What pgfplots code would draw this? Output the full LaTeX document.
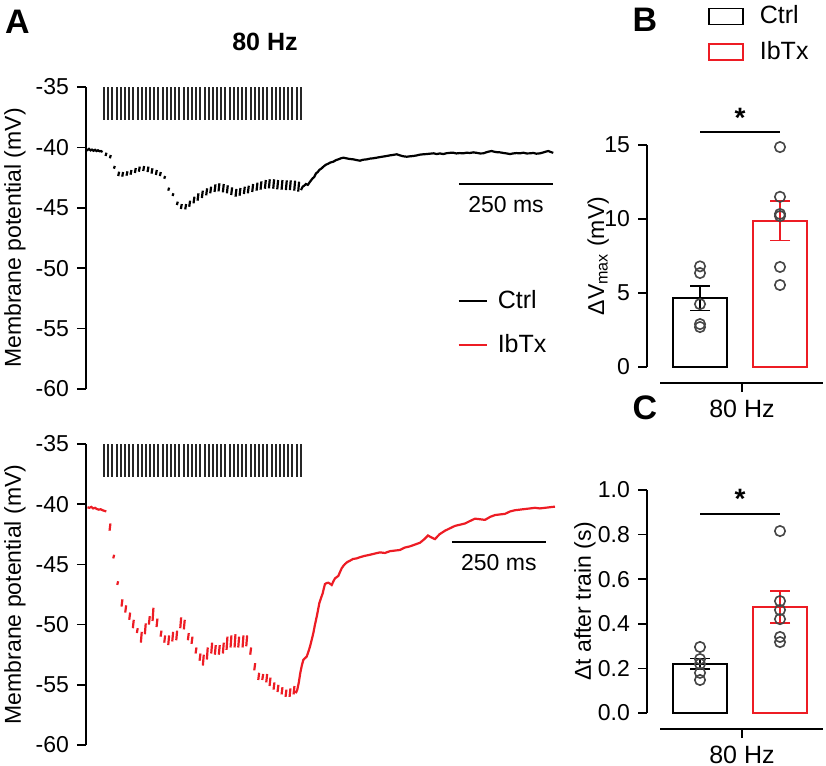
\documentclass[border=0pt]{standalone}
\usepackage{fontspec}
\setmainfont{Liberation Sans}
\usepackage{pgfplots}
\usepackage{pgfplotstable}
\pgfplotsset{compat=1.18}
\definecolor{myred}{RGB}{237,28,36}
\definecolor{cgray}{RGB}{70,70,70}

\pgfplotstableread[row sep=\\]{
t v\\
47.9 -35\\ 47.9 -37.75\\ nan nan\\
59.0 -35\\ 59.0 -37.75\\ nan nan\\
70.2 -35\\ 70.2 -37.75\\ nan nan\\
81.3 -35\\ 81.3 -37.75\\ nan nan\\
92.5 -35\\ 92.5 -37.75\\ nan nan\\
103.6 -35\\ 103.6 -37.75\\ nan nan\\
114.7 -35\\ 114.7 -37.75\\ nan nan\\
125.9 -35\\ 125.9 -37.75\\ nan nan\\
137.0 -35\\ 137.0 -37.75\\ nan nan\\
148.2 -35\\ 148.2 -37.75\\ nan nan\\
159.3 -35\\ 159.3 -37.75\\ nan nan\\
170.4 -35\\ 170.4 -37.75\\ nan nan\\
181.6 -35\\ 181.6 -37.75\\ nan nan\\
192.7 -35\\ 192.7 -37.75\\ nan nan\\
203.9 -35\\ 203.9 -37.75\\ nan nan\\
215.0 -35\\ 215.0 -37.75\\ nan nan\\
226.1 -35\\ 226.1 -37.75\\ nan nan\\
237.3 -35\\ 237.3 -37.75\\ nan nan\\
248.4 -35\\ 248.4 -37.75\\ nan nan\\
259.6 -35\\ 259.6 -37.75\\ nan nan\\
270.7 -35\\ 270.7 -37.75\\ nan nan\\
281.8 -35\\ 281.8 -37.75\\ nan nan\\
293.0 -35\\ 293.0 -37.75\\ nan nan\\
304.1 -35\\ 304.1 -37.75\\ nan nan\\
315.3 -35\\ 315.3 -37.75\\ nan nan\\
326.4 -35\\ 326.4 -37.75\\ nan nan\\
337.5 -35\\ 337.5 -37.75\\ nan nan\\
348.7 -35\\ 348.7 -37.75\\ nan nan\\
359.8 -35\\ 359.8 -37.75\\ nan nan\\
371.0 -35\\ 371.0 -37.75\\ nan nan\\
382.1 -35\\ 382.1 -37.75\\ nan nan\\
393.2 -35\\ 393.2 -37.75\\ nan nan\\
404.4 -35\\ 404.4 -37.75\\ nan nan\\
415.5 -35\\ 415.5 -37.75\\ nan nan\\
426.7 -35\\ 426.7 -37.75\\ nan nan\\
437.8 -35\\ 437.8 -37.75\\ nan nan\\
448.9 -35\\ 448.9 -37.75\\ nan nan\\
460.1 -35\\ 460.1 -37.75\\ nan nan\\
471.2 -35\\ 471.2 -37.75\\ nan nan\\
482.4 -35\\ 482.4 -37.75\\ nan nan\\
493.5 -35\\ 493.5 -37.75\\ nan nan\\
504.6 -35\\ 504.6 -37.75\\ nan nan\\
515.8 -35\\ 515.8 -37.75\\ nan nan\\
526.9 -35\\ 526.9 -37.75\\ nan nan\\
538.1 -35\\ 538.1 -37.75\\ nan nan\\
549.2 -35\\ 549.2 -37.75\\ nan nan\\
560.3 -35\\ 560.3 -37.75\\ nan nan\\
571.5 -35\\ 571.5 -37.75\\
}\stimtable

\pgfplotstableread[row sep=\\]{
t v\\
0 -40.15\\ 4 -40.22\\ 8 -40.12\\ 12 -40.25\\ 16 -40.18\\ 20 -40.28\\ 24 -40.20\\ 28 -40.30\\ 32 -40.24\\ 36 -40.32\\ 40 -40.30\\ 44 -40.38\\ nan nan\\
52.0 -40.71\\ 54.4 -40.44\\ nan nan\\
63.5 -40.90\\ 65.9 -40.63\\ nan nan\\
74.2 -41.76\\ 76.6 -41.54\\ nan nan\\
85.7 -42.37\\ 88.1 -42.01\\ nan nan\\
96.3 -42.42\\ 98.7 -42.04\\ nan nan\\
107.8 -42.34\\ 110.2 -41.98\\ nan nan\\
118.5 -42.26\\ 120.9 -41.87\\ nan nan\\
130.0 -42.12\\ 132.4 -41.71\\ nan nan\\
140.6 -42.01\\ 143.0 -41.59\\ nan nan\\
152.2 -41.95\\ 154.6 -41.54\\ nan nan\\
163.7 -42.04\\ 166.1 -41.59\\ nan nan\\
174.3 -42.17\\ 176.7 -41.73\\ nan nan\\
185.9 -42.28\\ 188.3 -41.87\\ nan nan\\
196.5 -42.37\\ 198.9 -42.04\\ nan nan\\
208.0 -42.59\\ 210.4 -42.37\\ nan nan\\
218.7 -43.58\\ 221.1 -43.33\\ nan nan\\
230.2 -44.02\\ 232.6 -43.80\\ nan nan\\
241.7 -44.77\\ 244.1 -44.49\\ nan nan\\
252.3 -45.10\\ 254.7 -44.69\\ nan nan\\
263.9 -45.13\\ 266.3 -44.69\\ nan nan\\
274.5 -44.91\\ 276.9 -44.41\\ nan nan\\
286.0 -44.63\\ 288.4 -44.08\\ nan nan\\
296.7 -44.41\\ 299.1 -43.80\\ nan nan\\
308.2 -44.19\\ 310.6 -43.58\\ nan nan\\
319.7 -43.97\\ 322.1 -43.39\\ nan nan\\
330.4 -43.80\\ 332.8 -43.25\\ nan nan\\
341.9 -43.69\\ 344.3 -43.06\\ nan nan\\
352.5 -43.64\\ 354.9 -42.97\\ nan nan\\
364.0 -43.72\\ 366.4 -43.03\\ nan nan\\
374.7 -43.80\\ 377.1 -43.14\\ nan nan\\
386.2 -43.94\\ 388.6 -43.31\\ nan nan\\
397.7 -44.08\\ 400.1 -43.44\\ nan nan\\
408.4 -44.00\\ 410.8 -43.36\\ nan nan\\
419.9 -43.86\\ 422.3 -43.25\\ nan nan\\
430.5 -43.80\\ 432.9 -43.17\\ nan nan\\
442.1 -43.69\\ 444.5 -43.03\\ nan nan\\
453.6 -43.58\\ 456.0 -42.92\\ nan nan\\
464.2 -43.50\\ 466.6 -42.81\\ nan nan\\
475.8 -43.42\\ 478.2 -42.70\\ nan nan\\
486.4 -43.39\\ 488.8 -42.64\\ nan nan\\
497.9 -43.42\\ 500.3 -42.64\\ nan nan\\
508.6 -43.47\\ 511.0 -42.70\\ nan nan\\
520.1 -43.50\\ 522.5 -42.70\\ nan nan\\
531.6 -43.53\\ 534.0 -42.73\\ nan nan\\
542.2 -43.53\\ 544.6 -42.73\\ nan nan\\
553.8 -43.58\\ 556.2 -42.75\\ nan nan\\
564.4 -43.66\\ 566.8 -42.84\\ nan nan\\
571.8 -43.53\\ 576.2 -43.25\\ 581 -43.15\\ 585.1 -43.03\\ 590 -43.10\\ 594.0 -42.92\\ 598 -42.75\\ 602.8 -42.56\\ 607 -42.45\\ 611.7 -42.15\\ 616 -42.05\\ 621 -41.85\\ 626 -41.75\\ 631.2 -41.60\\ 637 -41.45\\ 644 -41.35\\ 650 -41.25\\ 657.8 -41.18\\ 665 -41.05\\ 672 -40.98\\ 678 -40.90\\ 684.4 -40.85\\ 692 -40.90\\ 700 -40.95\\ 711 -40.99\\ 720 -41.05\\ 728.7 -41.10\\ 737 -41.02\\ 746.5 -40.99\\ 755 -40.93\\ 764 -40.90\\ 773.1 -40.85\\ 782 -40.80\\ 790 -40.76\\ 799.7 -40.71\\ 808 -40.66\\ 817 -40.62\\ 826.3 -40.57\\ 834 -40.65\\ 843 -40.73\\ 852.9 -40.77\\ 861 -40.74\\ 870.6 -40.71\\ 880 -40.66\\ 888 -40.60\\ 897.2 -40.57\\ 906 -40.55\\ 915 -40.52\\ 923.8 -40.49\\ 933 -40.55\\ 941 -40.50\\ 950.4 -40.55\\ 959 -40.48\\ 968 -40.45\\ 976.9 -40.44\\ 985 -40.50\\ 994 -40.47\\ 1003.5 -40.49\\ 1012 -40.44\\ 1021 -40.46\\ 1030 -40.41\\ 1039 -40.45\\ 1048 -40.50\\ 1056.7 -40.49\\ 1065 -40.40\\ 1072 -40.34\\ 1078.9 -40.30\\ 1086 -40.36\\ 1094 -40.40\\ 1101 -40.41\\ 1110 -40.46\\ 1119 -40.50\\ 1127.7 -40.55\\ 1136 -40.50\\ 1145 -40.47\\ 1154.3 -40.49\\ 1163 -40.44\\ 1172 -40.50\\ 1180.9 -40.49\\ 1190 -40.46\\ 1198 -40.52\\ 1207.4 -40.49\\ 1216 -40.42\\ 1223 -40.35\\ 1229.6 -40.30\\ 1236 -40.38\\ 1242.8 -40.45\\
}\ctrltable

\pgfplotstableread[row sep=\\]{
t v\\
4 -40.25\\ 9 -40.30\\ 14 -40.22\\ 19 -40.35\\ 24 -40.30\\ 29 -40.40\\ 34 -40.45\\ 39 -40.42\\ 44 -40.50\\ 49 -40.55\\ 54 -40.60\\ nan nan\\
62.6 -42.2\\ 65.0 -41.6\\ nan nan\\
72.5 -44.5\\ 74.9 -44.2\\ nan nan\\
83.1 -46.7\\ 85.5 -46.4\\ nan nan\\
94.5 -48.5\\ 96.9 -47.9\\ nan nan\\
104.4 -49.0\\ 106.8 -48.4\\ nan nan\\
115.0 -49.6\\ 117.4 -49.0\\ nan nan\\
124.6 -50.3\\ 127.0 -49.6\\ nan nan\\
135.2 -50.7\\ 137.6 -50.3\\ nan nan\\
145.9 -51.5\\ 148.3 -50.6\\ nan nan\\
156.5 -50.8\\ 158.9 -49.9\\ nan nan\\
167.2 -50.0\\ 169.6 -49.3\\ nan nan\\
177.0 -49.7\\ 179.4 -48.6\\ nan nan\\
187.6 -50.2\\ 190.0 -49.5\\ nan nan\\
198.3 -51.0\\ 200.7 -50.5\\ nan nan\\
208.1 -51.5\\ 210.5 -50.9\\ nan nan\\
218.7 -51.7\\ 221.1 -50.9\\ nan nan\\
229.4 -51.4\\ 231.8 -50.6\\ nan nan\\
240.0 -51.3\\ 242.4 -50.5\\ nan nan\\
250.7 -50.3\\ 253.1 -49.4\\ nan nan\\
260.2 -50.4\\ 262.6 -49.6\\ nan nan\\
270.9 -51.3\\ 273.3 -50.7\\ nan nan\\
280.7 -51.6\\ 283.1 -51.0\\ nan nan\\
291.4 -52.4\\ 293.8 -51.9\\ nan nan\\
302.0 -53.0\\ 304.4 -52.4\\ nan nan\\
310.8 -53.4\\ 313.2 -52.5\\ nan nan\\
321.4 -52.9\\ 323.8 -51.9\\ nan nan\\
333.1 -52.4\\ 335.5 -51.5\\ nan nan\\
342.7 -52.5\\ 345.1 -51.7\\ nan nan\\
353.3 -52.5\\ 355.7 -51.7\\ nan nan\\
364.0 -52.4\\ 366.4 -51.5\\ nan nan\\
373.8 -52.1\\ 376.2 -51.0\\ nan nan\\
384.4 -51.9\\ 386.8 -50.9\\ nan nan\\
395.1 -51.9\\ 397.5 -50.8\\ nan nan\\
404.9 -51.9\\ 407.3 -51.0\\ nan nan\\
416.4 -51.9\\ 418.8 -50.9\\ nan nan\\
426.2 -51.8\\ 428.6 -50.9\\ nan nan\\
436.8 -52.5\\ 439.2 -51.9\\ nan nan\\
447.5 -53.8\\ 449.9 -53.2\\ nan nan\\
458.1 -54.6\\ 460.5 -54.0\\ nan nan\\
468.8 -54.6\\ 471.2 -54.1\\ nan nan\\
479.4 -54.8\\ 481.8 -54.1\\ nan nan\\
488.2 -55.1\\ 490.6 -54.4\\ nan nan\\
498.8 -55.4\\ 501.2 -54.8\\ nan nan\\
509.4 -55.6\\ 511.8 -55.0\\ nan nan\\
520.1 -55.8\\ 522.5 -55.2\\ nan nan\\
530.7 -56.0\\ 533.1 -55.4\\ nan nan\\
541.4 -56.0\\ 543.8 -55.3\\ nan nan\\
552.0 -55.8\\ 554.4 -55.1\\ nan nan\\
558 -55.7\\ 562 -55.4\\ 566 -54.8\\ 570 -54.0\\ 574 -53.4\\ 577.9 -52.94\\ 582 -52.8\\ 586.9 -52.66\\ 591 -52.3\\ 595.7 -51.83\\ 600 -51.3\\ 604.5 -50.72\\ 609 -50.0\\ 613.6 -49.34\\ 617 -48.8\\ 620.5 -48.23\\ 625 -47.8\\ 629.5 -47.40\\ 632.5 -47.0\\ 635.6 -46.63\\ 640 -46.55\\ 644.4 -46.52\\ 649 -46.6\\ 653.5 -46.71\\ 658 -46.4\\ 662.2 -46.16\\ 667 -46.05\\ 671.0 -45.96\\ 676 -45.6\\ 680.1 -45.32\\ 685 -45.1\\ 688.8 -44.97\\ 695 -44.8\\ 702.1 -44.69\\ 710 -44.55\\ 720 -44.5\\ 728.7 -44.4\\ 740 -44.3\\ 755 -44.2\\ 768 -44.1\\ 781.9 -44.0\\ 795 -44.05\\ 808.5 -43.9\\ 822 -43.85\\ 835.1 -43.8\\ 848 -43.6\\ 861.7 -43.5\\ 875 -43.35\\ 888.3 -43.2\\ 900 -42.9\\ 909.6 -42.6\\ 918 -42.75\\ 928.2 -42.9\\ 940 -42.5\\ 954.8 -42.2\\ 968 -42.0\\ 981.4 -41.8\\ 995 -41.7\\ 1008 -41.6\\ 1021 -41.4\\ 1034.6 -41.2\\ 1048 -41.25\\ 1061.2 -41.3\\ 1075 -41.05\\ 1087.8 -40.9\\ 1101 -40.85\\ 1114.4 -40.8\\ 1128 -40.6\\ 1141 -40.5\\ 1154 -40.45\\ 1167.6 -40.4\\ 1181 -40.35\\ 1194.1 -40.3\\ 1207 -40.35\\ 1220.7 -40.3\\ 1234 -40.25\\ 1247.3 -40.2\\
}\ibtxtable

\begin{document}
\fontsize{11.5}{13.8}\selectfont
\begin{tikzpicture}
\useasboundingbox (0,0) rectangle (413pt,-383pt);
\pgfplotsset{
  traceax/.style={
    scale only axis, width=235pt, height=151pt,
    xmin=0, xmax=1250, ymin=-60, ymax=-35,
    axis x line=none, axis y line*=left,
    axis line style={-, line width=0.8pt},
    ytick={-60,-55,-50,-45,-40,-35},
    yticklabels={-60,-55,-50,-45,-40,-35},
    tick align=outside, major tick length=4.5pt,
    ytick style={line width=0.8pt, black},
    ylabel={Membrane potential (mV)},
    ylabel style={at={(axis description cs:-0.151,0.5)}, anchor=center},
    unbounded coords=jump,
    legend image code/.code={\draw[#1] (0pt,0pt) -- (14pt,0pt);},
  },
  barax/.style={
    scale only axis, width=81.5pt,
    xmin=-0.5, xmax=1.5375,
    axis x line*=bottom, axis y line*=left,
    axis x line shift=8pt, axis y line shift=6.5pt,
    axis line style={-, line width=0.8pt},
    tick align=outside, major tick length=4.5pt,
    tick style={line width=0.8pt, black},
    xtick={0.525}, xticklabels={80 Hz},
    xticklabel style={font=\fontsize{12.5}{14}\selectfont},
    clip=false,
  },
  blackerr/.style={error bars/.cd, y dir=both, y explicit, error mark=-,
    error bar style={line width=0.8pt, draw=black},
    error mark options={rotate=90, line width=0.8pt, mark size=5pt, draw=black}},
  rederr/.style={error bars/.cd, y dir=both, y explicit, error mark=-,
    error bar style={line width=0.8pt, draw=myred},
    error mark options={rotate=90, line width=0.8pt, mark size=5pt, draw=myred}},
}

% Panel A top
\begin{axis}[traceax, at={(43pt,-194.5pt)}, anchor=south west,
  legend style={draw=none, fill=none, at={(0.777,0.354)}, anchor=north west, row sep=7pt,
    font=\fontsize{12.5}{14}\selectfont, /tikz/every odd column/.append style={column sep=3pt}},
  legend cell align=left]
\addplot[black!85, line width=1pt, forget plot] table[x=t,y=v]{\stimtable};
\addplot[black, line width=1.1pt, forget plot] table[x=t,y=v]{\ctrltable};
\addlegendimage{black, line width=1.1pt}
\addlegendentry{Ctrl}
\addlegendimage{myred, line width=1.1pt}
\addlegendentry{IbTx}
\draw[line width=0.9pt] (axis cs:992,-43.03) -- (axis cs:1242,-43.03);
\node at (axis cs:1117,-44.77) {250 ms};
\end{axis}

% Panel A bottom
\begin{axis}[traceax, at={(43pt,-372.5pt)}, anchor=south west, height=150.5pt]
\addplot[black!85, line width=1pt, forget plot] table[x=t,y=v]{\stimtable};
\addplot[myred, line width=1.1pt, forget plot] table[x=t,y=v]{\ibtxtable};
\draw[line width=0.9pt] (axis cs:973,-43.14) -- (axis cs:1223,-43.14);
\node at (axis cs:1098,-44.88) {250 ms};
\end{axis}

% Panel B
\begin{axis}[barax, at={(330pt,-183.5pt)}, anchor=south west, height=111pt,
  ymin=0, ymax=15, ytick={0,5,10,15}, yticklabels={0,5,10,15},
  ylabel={ΔV\textsubscript{max} (mV)},
  ylabel style={at={(axis description cs:-0.38,0.5)}, anchor=center},
  legend style={draw=none, fill=none, at={(0.257,1.665)}, anchor=north west, row sep=3pt,
    font=\fontsize{12.5}{14}\selectfont, /tikz/every odd column/.append style={column sep=6pt}},
  legend cell align=left,
  legend image code/.code={\draw[#1] (0pt,-4pt) rectangle (17pt,4pt);}]
\addplot[ybar, bar width=27pt, bar shift=0pt, draw=black, fill=white, line width=0.8pt, forget plot]
  coordinates {(0,4.66)};
\addplot[ybar, bar width=27pt, bar shift=0pt, draw=myred, fill=white, line width=0.8pt, forget plot]
  coordinates {(1,9.87)};
\addplot[only marks, mark=o, mark size=2.6pt, cgray, mark options={line width=0.8pt}, forget plot]
  coordinates {(0,6.8) (0,6.35) (0,4.25) (0,2.9) (0,2.7)};
\addplot[only marks, mark=o, mark size=2.6pt, cgray, mark options={line width=0.8pt}, forget plot]
  coordinates {(1,14.86) (1,11.5) (1,10.34) (1,10.2) (1,6.76) (1,5.54)};
\addplot[draw=none, mark=none, forget plot, blackerr] coordinates {(0,4.66) +- (0,0.83)};
\addplot[draw=none, mark=none, forget plot, rederr] coordinates {(1,9.87) +- (0,1.33)};
\addlegendimage{draw=black, fill=white, line width=0.8pt}
\addlegendentry{Ctrl}
\addlegendimage{draw=myred, fill=white, line width=0.8pt}
\addlegendentry{IbTx}
\draw[line width=0.8pt] (axis cs:0,15.88) -- (axis cs:1,15.88);
\node[font=\bfseries\fontsize{14}{14}\selectfont] at (axis cs:0.5,16.8) {*};
\end{axis}

% Panel C
\begin{axis}[barax, at={(330pt,-356.5pt)}, anchor=south west, height=111.5pt,
  ymin=0, ymax=1, ytick={0,0.2,0.4,0.6,0.8,1.0}, yticklabels={0.0,0.2,0.4,0.6,0.8,1.0},
  ylabel={Δt after train (s)},
  ylabel style={at={(axis description cs:-0.46,0.5)}, anchor=center}]
\addplot[ybar, bar width=27pt, bar shift=0pt, draw=black, fill=white, line width=0.8pt, forget plot]
  coordinates {(0,0.22)};
\addplot[ybar, bar width=27pt, bar shift=0pt, draw=myred, fill=white, line width=0.8pt, forget plot]
  coordinates {(1,0.476)};
\addplot[only marks, mark=o, mark size=2.6pt, cgray, mark options={line width=0.8pt}, forget plot]
  coordinates {(0,0.296) (0,0.242) (0,0.22) (0,0.18) (0,0.148)};
\addplot[only marks, mark=o, mark size=2.6pt, cgray, mark options={line width=0.8pt}, forget plot]
  coordinates {(1,0.816) (1,0.502) (1,0.462) (1,0.421) (1,0.341) (1,0.318)};
\addplot[draw=none, mark=none, forget plot, blackerr] coordinates {(0,0.22) +- (0,0.024)};
\addplot[draw=none, mark=none, forget plot, rederr] coordinates {(1,0.476) +- (0,0.072)};
\draw[line width=0.8pt] (axis cs:0,0.892) -- (axis cs:1,0.892);
\node[font=\bfseries\fontsize{14}{14}\selectfont] at (axis cs:0.5,0.962) {*};
\end{axis}

\node[font=\bfseries\fontsize{17}{17}\selectfont] at (8.75pt,-10.75pt) {A};
\node[font=\bfseries\fontsize{12.5}{12.5}\selectfont] at (132.5pt,-21pt) {80 Hz};
\node[font=\bfseries\fontsize{17}{17}\selectfont] at (322.5pt,-10pt) {B};
\node[font=\bfseries\fontsize{17}{17}\selectfont] at (322.5pt,-204pt) {C};
\end{tikzpicture}
\end{document}
